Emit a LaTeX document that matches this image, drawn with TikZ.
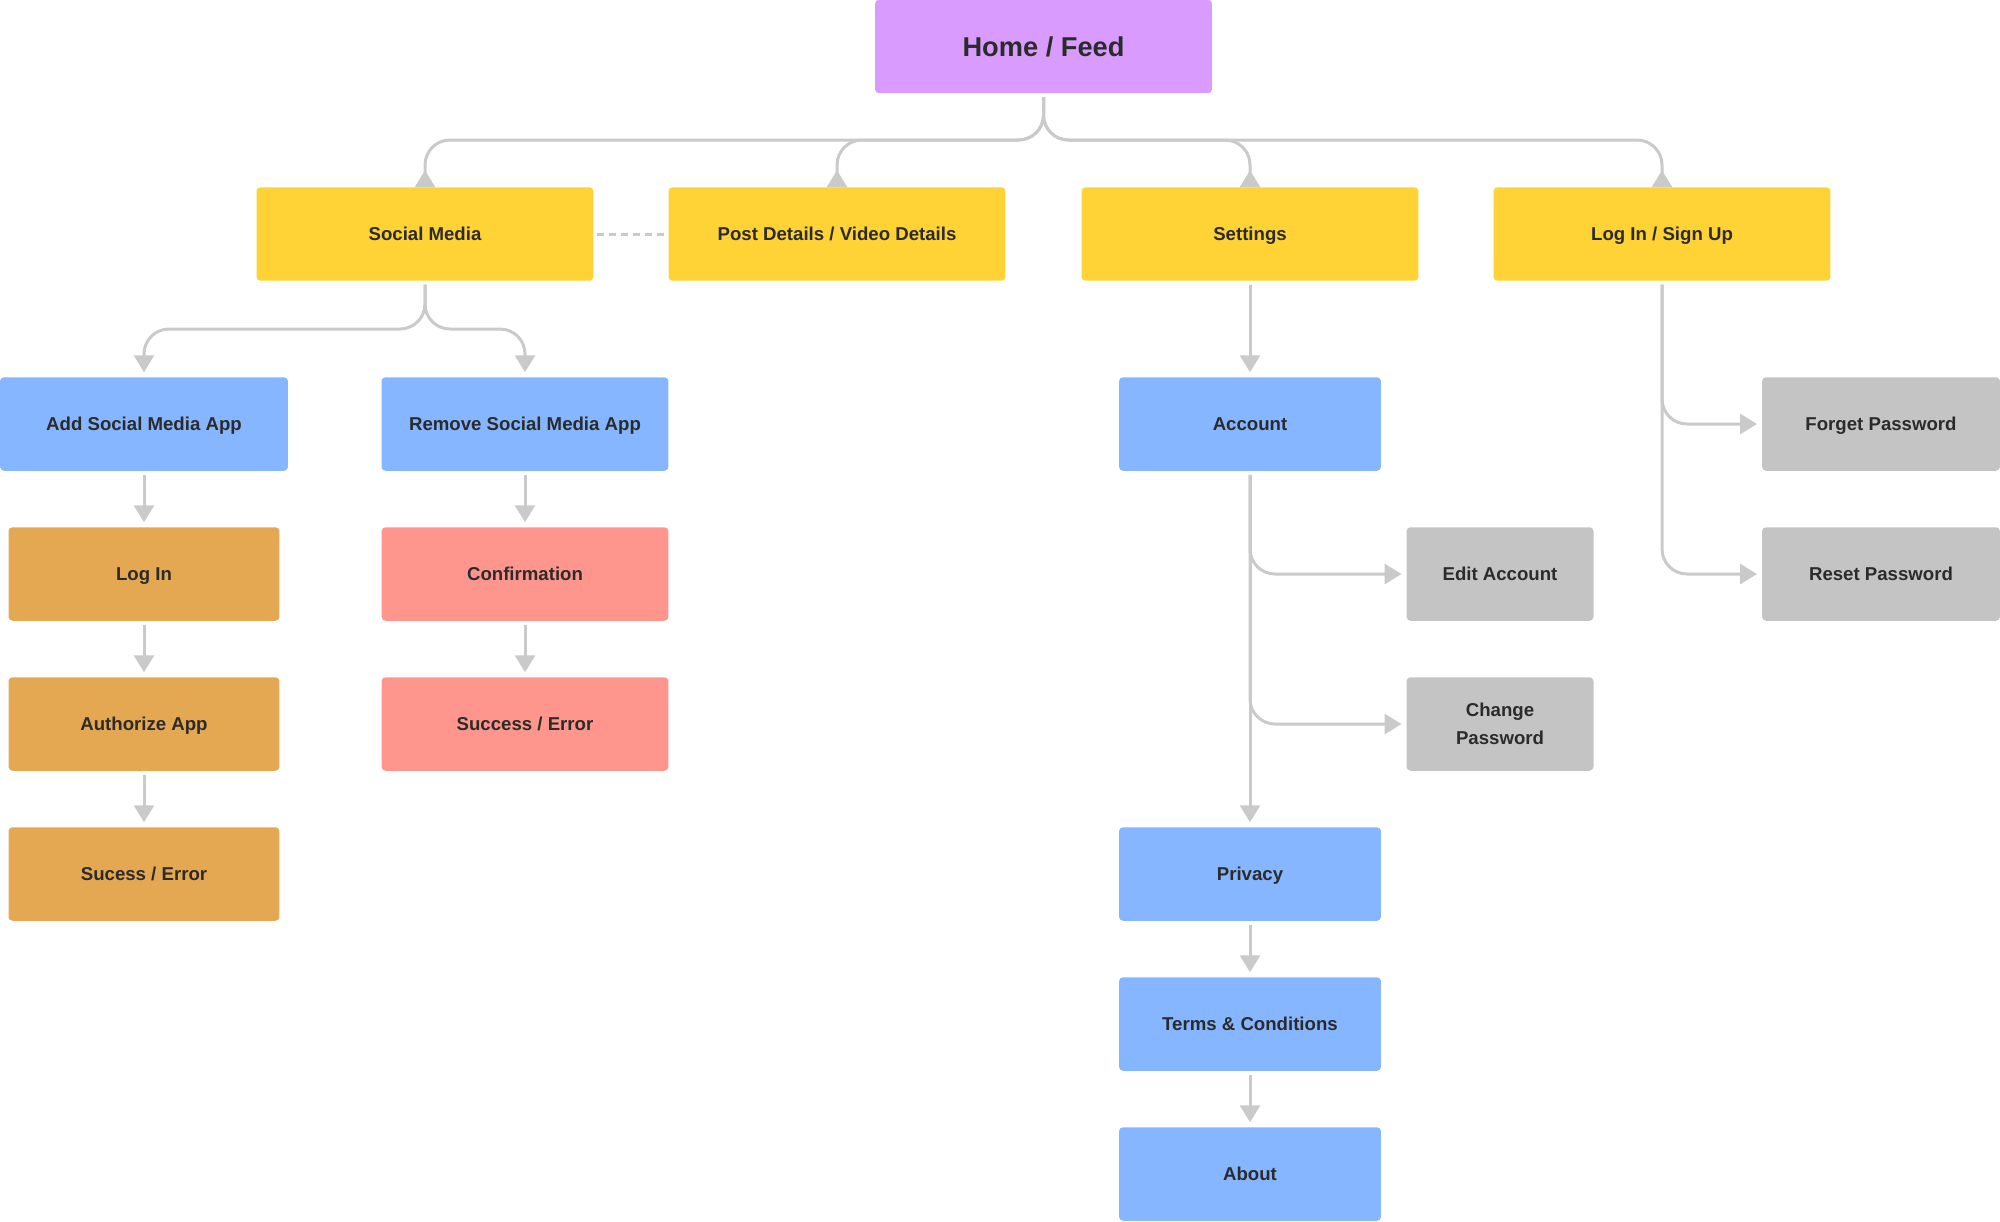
\documentclass[tikz,border=0pt]{standalone}
\usepackage{fontspec}
\setmainfont{Liberation Sans}
\usetikzlibrary{arrows.meta,positioning}

\definecolor{feedpurple}{HTML}{D99BFE}
\definecolor{mainyellow}{HTML}{FFD235}
\definecolor{pageblue}{HTML}{85B6FF}
\definecolor{authorange}{HTML}{E5A852}
\definecolor{removepink}{HTML}{FF968D}
\definecolor{subgray}{HTML}{C4C4C4}
\definecolor{linkgray}{HTML}{CACACA}
\definecolor{ink}{HTML}{2B2B2B}

\begin{document}
\begin{tikzpicture}[>={Triangle[length=0.34cm,width=0.4cm]}, x=0.02cm, y=-0.02cm]
  % Box and connector styles (1 unit = 1 px of the sitemap)
  \tikzset{
    box/.style  = {rounded corners=0.08cm, minimum height=1.87cm, inner sep=0pt, outer sep=0pt,
                   text=ink, align=center, text height=7.6pt, text depth=0pt,
                   font=\fontsize{10.6}{16}\selectfont\bfseries},
    hub/.style  = {box, fill=feedpurple, minimum width=6.74cm, text height=11.1pt,
                   font=\fontsize{15.5}{18}\selectfont\bfseries},
    main/.style = {box, fill=mainyellow, minimum width=6.74cm},
    page/.style = {box, fill=pageblue},
    auth/.style = {box, fill=authorange, minimum width=5.42cm},
    rm/.style   = {box, fill=removepink, minimum width=5.74cm},
    sub/.style  = {box, fill=subgray},
    link/.style = {draw=linkgray, line width=0.06cm, shorten <=0.08cm},
    branch/.style = {link, ->, rounded corners=0.5cm},
    upbranch/.style = {link, -{Triangle[length=0.34cm,width=0.4cm,reversed]}, rounded corners=0.5cm}
  }

  \useasboundingbox (0,0) rectangle (2000,1221);

  % --- Top level ---
  \node[hub] (home) at (1043.5,46.5) {Home / Feed};

  \node[main] (social)   at (425,234)  {Social Media};
  \node[main] (post)     at (837,234)  {Post Details / Video Details};
  \node[main] (settings) at (1250,234) {Settings};
  \node[main] (login)    at (1662,234) {Log In / Sign Up};

  % --- Social media branch ---
  \node[page, minimum width=5.76cm] (addapp)    at (144,424) {Add Social Media App};
  \node[page, minimum width=5.74cm] (removeapp) at (525,424) {Remove Social Media App};

  \node[auth] (fblogin)   at (144,574) {Log In};
  \node[auth] (authorize) at (144,724) {Authorize App};
  \node[auth] (smerror)   at (144,874) {Sucess / Error};

  \node[rm] (confirm) at (525,574) {Confirmation};
  \node[rm] (rmerror) at (525,724) {Success / Error};

  % --- Settings branch ---
  \node[page, minimum width=5.24cm] (account) at (1250,424)  {Account};
  \node[page, minimum width=5.24cm] (privacy) at (1250,874)  {Privacy};
  \node[page, minimum width=5.24cm] (terms)   at (1250,1024) {Terms \& Conditions};
  \node[page, minimum width=5.24cm] (about)   at (1250,1174) {About};

  \node[sub, minimum width=3.74cm] (editacc)  at (1500,574) {Edit Account};
  \node[sub, minimum width=3.74cm, text height=23.6pt] (changepw) at (1500,724) {Change\\Password};

  % --- Log in branch ---
  \node[sub, minimum width=4.76cm] (forget) at (1881,424) {Forget Password};
  \node[sub, minimum width=4.76cm] (reset)  at (1881,574) {Reset Password};

  % --- Connectors ---
  \coordinate (bus)   at (0,140);
  \coordinate (smbus) at (0,329);

  \foreach \n in {social,post,settings,login}
    \draw[upbranch] (home.south) -- (home.south |- bus) -| (\n.north);

  \foreach \n in {addapp,removeapp}
    \draw[branch, shorten >=0.1cm] (social.south) -- (social.south |- smbus) -| (\n.north);

  \draw[link, shorten >=0.08cm, dash pattern=on 0.14cm off 0.1cm] (social) -- (post);

  \foreach \a/\b in {addapp/fblogin, fblogin/authorize, authorize/smerror,
                     removeapp/confirm, confirm/rmerror,
                     settings/account, account/privacy, privacy/terms, terms/about}
    \draw[link, ->, shorten >=0.1cm] (\a) -- (\b);

  \foreach \n in {editacc,changepw}
    \draw[branch, shorten >=0.1cm] (account.south) |- (\n.west);

  \foreach \n in {forget,reset}
    \draw[branch, shorten >=0.1cm] (login.south) |- (\n.west);
\end{tikzpicture}
\end{document}
